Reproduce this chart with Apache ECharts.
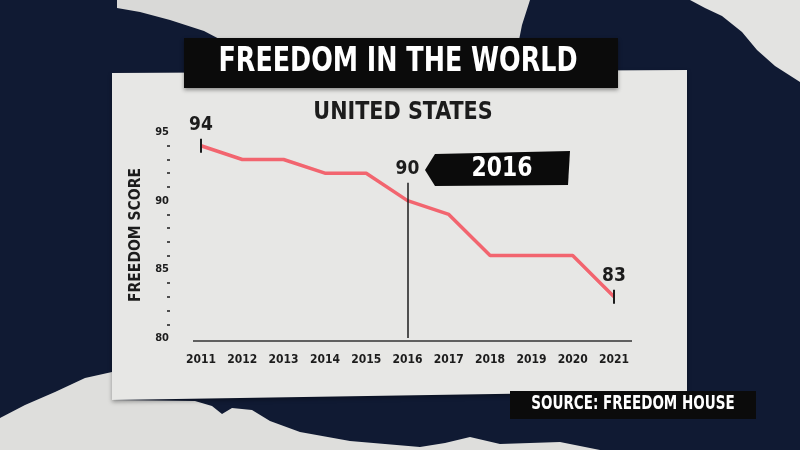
<!DOCTYPE html>
<html>
<head>
<meta charset="utf-8">
<script src="https://cdn.jsdelivr.net/npm/echarts@6/dist/echarts.min.js"></script>
<style>
  html, body { margin: 0; padding: 0; background: #101a33; }
  #main { width: 800px; height: 450px; }
</style>
</head>
<body>
<div id="main"></div>
<script>
// data
var years = ['2011', '2012', '2013', '2014', '2015', '2016', '2017', '2018', '2019', '2020', '2021']
var scores = [94, 93, 93, 92, 92, 90, 89, 86, 86, 86, 83]
var yMin = 80
var yMax = 95
var yStep = 5
var markYear = '2016'

var font = '"DejaVu Sans Condensed", "DejaVu Sans", sans-serif'
var ink = '#1c1c1c'
var paper = '#e7e7e5'

var markIdx = years.indexOf(markYear)
var lastIdx = years.length - 1

var chart = echarts.init(document.getElementById('main'))

// narrow-looking text: squeeze it a bit horizontally
function squeezed(text, x, y, size, sx, color, z) {
    return {
        type: 'text', z: z || 6, x: x, y: y, scaleX: sx,
        style: {
            text: text, x: 0, y: 0, align: 'center', verticalAlign: 'middle',
            fill: color, font: 'bold ' + size + 'px ' + font,
        },
    }
}

var option = {
    backgroundColor: '#101a33',
    animation: false,
    grid: { left: 201, right: 186, top: 132, bottom: 112 },
    xAxis: {
        type: 'category',
        data: years,
        boundaryGap: false,
        axisLine: { show: false },
        axisTick: { show: false },
        axisLabel: { interval: 0, color: ink, fontFamily: font, fontSize: 12, fontWeight: 'bold', margin: 16 },
        splitLine: { show: false },
    },
    yAxis: {
        type: 'value',
        min: yMin,
        max: yMax,
        interval: yStep,
        offset: 31,
        name: 'FREEDOM SCORE',
        nameLocation: 'middle',
        nameGap: 24,
        nameTextStyle: { color: ink, fontFamily: font, fontSize: 15.5, fontWeight: 'bold' },
        axisLine: { show: false },
        axisTick: { show: false },
        minorTick: { show: true, splitNumber: 5, length: 3, lineStyle: { color: ink, width: 1.5 } },
        axisLabel: { color: ink, fontFamily: font, fontSize: 11, fontWeight: 'bold', margin: 1 },
        splitLine: { show: false },
    },
    series: [
        {
            type: 'line',
            data: scores,
            symbol: 'none',
            lineStyle: { color: '#f2656f', width: 3.5 },
            z: 3,
            markPoint: {
                symbol: 'rect',
                symbolSize: [2, 14],
                itemStyle: { color: ink },
                label: {
                    show: true,
                    position: 'top',
                    distance: 4,
                    color: ink,
                    fontFamily: font,
                    fontSize: 19,
                    fontWeight: 'bold',
                },
                data: [
                    { coord: [0, scores[0]], value: scores[0] },
                    { coord: [lastIdx, scores[lastIdx]], value: scores[lastIdx] },
                ],
            },
            markLine: {
                silent: true,
                symbol: 'none',
                lineStyle: { color: ink, width: 1.5, type: 'solid' },
                label: {
                    show: true,
                    position: 'start',
                    distance: 4,
                    formatter: String(scores[markIdx]),
                    color: ink,
                    fontFamily: font,
                    fontSize: 19,
                    fontWeight: 'bold',
                },
                data: [[{ coord: [markYear, scores[markIdx] + 1.3] }, { coord: [markYear, yMin] }]],
            },
        },
    ],
    graphic: [
        // torn paper pieces in the background
        {
            type: 'polygon', z: -10,
            shape: { points: [[117, 0], [530, 0], [522, 25], [516, 55], [255, 55], [225, 42], [204, 31], [170, 20], [140, 12], [117, 8]] },
            style: { fill: '#d9d9d7' },
        },
        {
            type: 'polygon', z: -10,
            shape: { points: [[690, 0], [800, 0], [800, 82], [775, 66], [757, 50], [742, 32], [722, 16], [705, 8]] },
            style: { fill: '#e3e3e1' },
        },
        {
            type: 'polygon', z: -10,
            shape: { points: [[0, 418], [25, 405], [55, 392], [85, 378], [112, 372], [112, 400], [195, 401], [212, 406], [222, 414], [232, 408], [252, 410], [270, 421], [300, 432], [350, 441], [420, 447], [445, 443], [470, 437], [500, 444], [560, 442], [600, 450], [0, 450]] },
            style: { fill: '#dededc' },
        },
        // the paper card
        {
            type: 'polygon', z: -9,
            shape: { points: [[112, 73], [687, 70], [687, 391], [112, 400]] },
            style: { fill: paper, shadowColor: 'rgba(0,0,0,0.35)', shadowBlur: 4, shadowOffsetY: 2 },
        },
        // title and source bars
        {
            type: 'rect', z: -8,
            shape: { x: 184, y: 38, width: 434, height: 50 },
            style: { fill: '#0b0b0b', shadowColor: 'rgba(0,0,0,0.4)', shadowBlur: 4, shadowOffsetY: 2 },
        },
        {
            type: 'rect', z: -8,
            shape: { x: 510, y: 391, width: 246, height: 28 },
            style: { fill: '#0b0b0b' },
        },
        squeezed('FREEDOM IN THE WORLD', 398, 62, 33, 0.855, '#fff'),
        squeezed('UNITED STATES', 403, 113, 24, 0.96, ink),
        squeezed('SOURCE: FREEDOM HOUSE', 633, 404, 19, 0.79, '#fff'),
        // x axis baseline
        {
            type: 'line', z: 1,
            shape: { x1: 193, y1: 341, x2: 632, y2: 341 },
            style: { stroke: '#333', lineWidth: 1.5 },
        },
        // 2016 tag
        {
            type: 'polygon', z: 5,
            shape: { points: [[425, 170], [435, 154], [570, 151], [568, 185], [435, 186]] },
            style: { fill: '#0b0b0b' },
        },
        squeezed(markYear, 502, 169, 27, 0.9, '#fff'),
    ],
}

option && chart.setOption(option)
</script>
</body>
</html>
